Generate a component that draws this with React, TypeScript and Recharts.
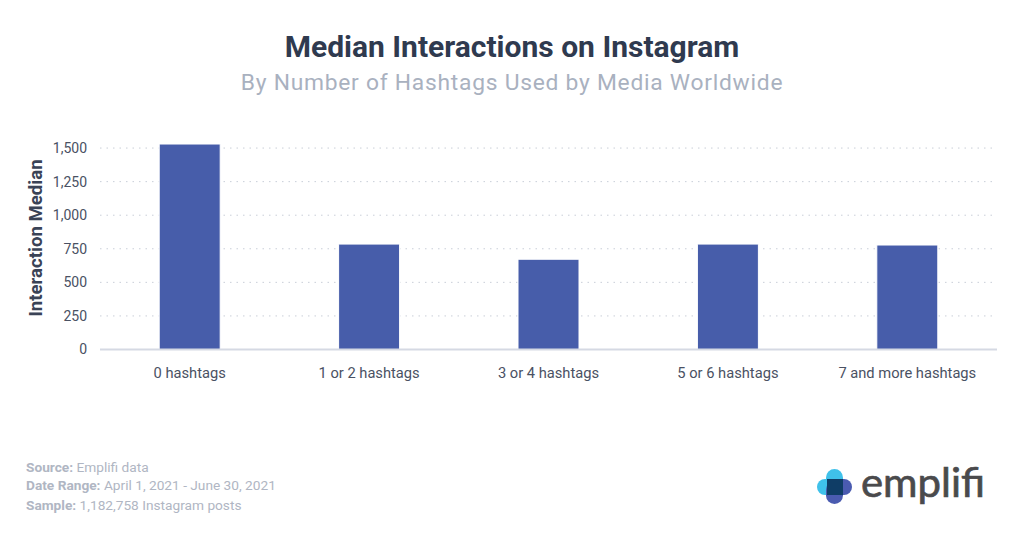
import React from "react";
import { BarChart, Bar, XAxis, YAxis, CartesianGrid } from "recharts";

const categories = ["0 hashtags", "1 or 2 hashtags", "3 or 4 hashtags", "5 or 6 hashtags", "7 and more hashtags"];
const medians = [1530, 785, 672, 785, 778];
const yTicks = [0, 250, 500, 750, 1000, 1250, 1500];
const rows = categories.map((name, i) => ({ name, value: medians[i] }));

const FONT = "Roboto, sans-serif";
const GREY = "#b0b6c3";

export default function App() {
  return (
    <div style={{ position: "absolute", left: 0, top: 0, width: 1024, height: 538, background: "#fff", overflow: "hidden", fontFamily: FONT }}>
      <BarChart
        width={1024}
        height={538}
        data={rows}
        margin={{ top: 140, right: 27, bottom: 158.5, left: 30 }}
        barCategoryGap="33%"
      >
        <CartesianGrid horizontal vertical={false} horizontalValues={yTicks} stroke="#c9ced8" strokeDasharray="1.5 5" />
        <XAxis
          dataKey="name"
          height={30}
          interval={0}
          tickLine={false}
          axisLine={{ stroke: "#d5d9e3", strokeWidth: 2 }}
          tick={{ fill: "#4a5163", fontSize: 14.7, fontFamily: FONT }}
          tickMargin={12}
        />
        <YAxis
          width={70}
          domain={[0, 1560]}
          ticks={yTicks}
          interval={0}
          tickLine={false}
          axisLine={false}
          tickFormatter={(v: number) => v.toLocaleString("en-US")}
          tick={{ fill: "#4a5163", fontSize: 14, fontFamily: FONT }}
          tickMargin={7}
        />
        <Bar dataKey="value" fill="#475daa" stroke="#ffffff" strokeWidth={1} isAnimationActive={false} />
      </BarChart>
      <svg width={1024} height={538} style={{ position: "absolute", left: 0, top: 0, pointerEvents: "none" }}>
        <text x={512} y={57} textAnchor="middle" fontSize={30} fontWeight={700} fill="#2f3a4f" fontFamily={FONT}>Median Interactions on Instagram</text>
        <text x={512} y={90} textAnchor="middle" fontSize={22.8} fill="#a9b1bf" letterSpacing={0.75} fontFamily={FONT}>By Number of Hashtags Used by Media Worldwide</text>
        <text transform="translate(42,238) rotate(-90)" textAnchor="middle" fontSize={18.6} fontWeight={700} fill="#3a4356" fontFamily={FONT}>Interaction Median</text>
        <g fontSize={13.7} fill={GREY} fontFamily={FONT}>
          <text x={26} y={472}><tspan fontWeight={700}>Source:</tspan> Emplifi data</text>
          <text x={26} y={490}><tspan fontWeight={700}>Date Range:</tspan> April 1, 2021 - June 30, 2021</text>
          <text x={26} y={510}><tspan fontWeight={700}>Sample:</tspan> 1,182,758 Instagram posts</text>
        </g>
        <g>
          <rect x={826} y={469} width={17} height={24} rx={8.5} fill="#3fc1ea" />
          <rect x={817} y={479} width={24} height={16} rx={8} fill="#3fc1ea" />
          <rect x={826} y={481} width={17} height={23} rx={8.5} fill="#4a5bb0" />
          <rect x={829} y={479} width={23} height={16} rx={8} fill="#4a5bb0" />
          <rect x={827} y={479} width={16} height={16} fill="#0f3d66" />
        </g>
        <text x={861} y={497} fontSize={41} fill="#4a4a4c" stroke="#4a4a4c" strokeWidth={0.7} fontFamily="Lato, sans-serif" textLength={124} lengthAdjust="spacingAndGlyphs">emplifi</text>
      </svg>
    </div>
  );
}
